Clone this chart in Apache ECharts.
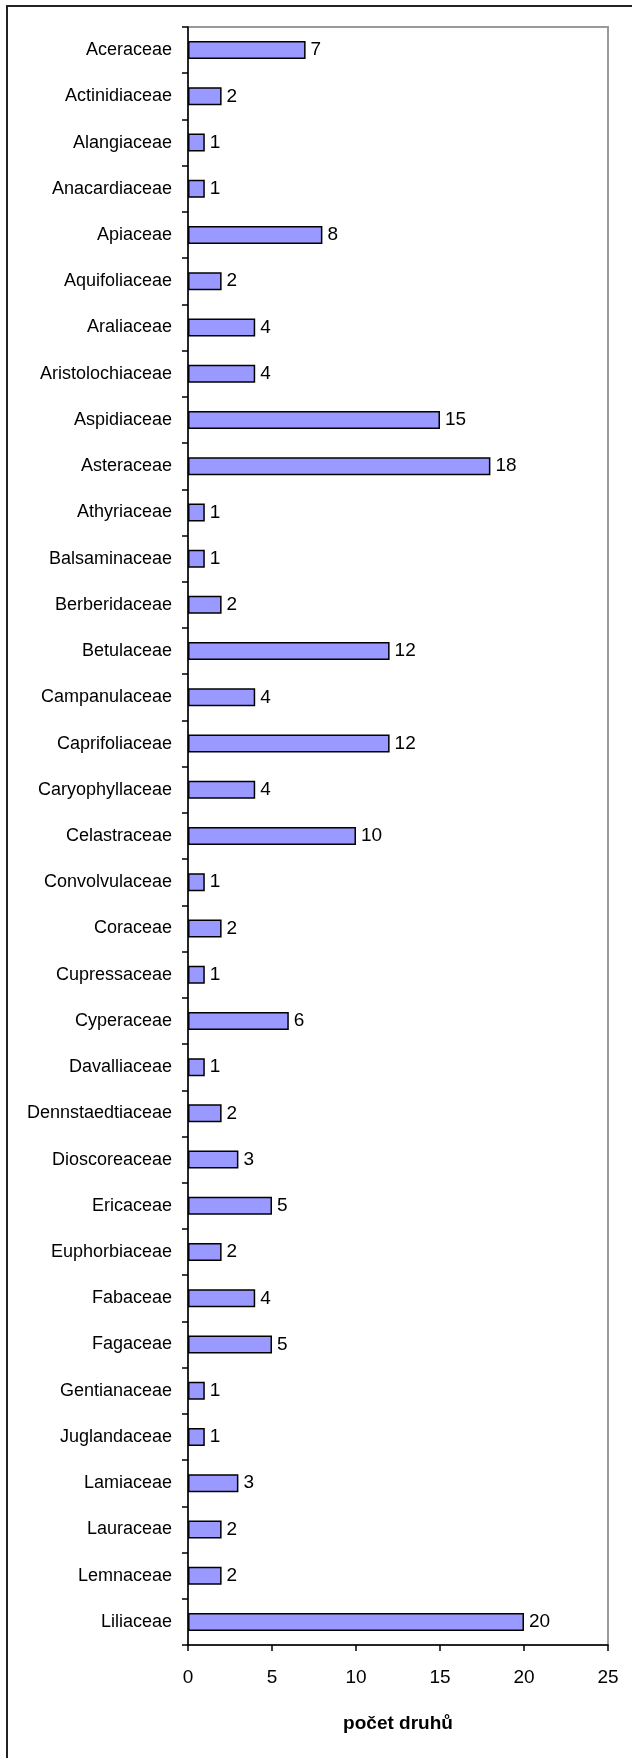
<!DOCTYPE html>
<html>
<head>
<meta charset="utf-8">
<script src="https://cdn.jsdelivr.net/npm/echarts@6/dist/echarts.min.js"></script>
<style>
  html, body { margin: 0; padding: 0; background: #fff; overflow: hidden; }
  #frame {
    position: absolute; left: 6px; top: 5px; width: 640px; height: 1770px;
    border-left: 2px solid #222; border-top: 2px solid #222;
  }
  #chart { position: absolute; left: 0; top: 0; width: 632px; height: 1758px; }
</style>
</head>
<body>
<div id="frame"></div>
<div id="chart"></div>
<script>
// families (top to bottom)
const families = [
  "Aceraceae", "Actinidiaceae", "Alangiaceae", "Anacardiaceae", "Apiaceae",
  "Aquifoliaceae", "Araliaceae", "Aristolochiaceae", "Aspidiaceae", "Asteraceae",
  "Athyriaceae", "Balsaminaceae", "Berberidaceae", "Betulaceae", "Campanulaceae",
  "Caprifoliaceae", "Caryophyllaceae", "Celastraceae", "Convolvulaceae", "Coraceae",
  "Cupressaceae", "Cyperaceae", "Davalliaceae", "Dennstaedtiaceae", "Dioscoreaceae",
  "Ericaceae", "Euphorbiaceae", "Fabaceae", "Fagaceae", "Gentianaceae",
  "Juglandaceae", "Lamiaceae", "Lauraceae", "Lemnaceae", "Liliaceae"
];

// species count per family
const speciesCount = [
  7, 2, 1, 1, 8,
  2, 4, 4, 15, 18,
  1, 1, 2, 12, 4,
  12, 4, 10, 1, 2,
  1, 6, 1, 2, 3,
  5, 2, 4, 5, 1,
  1, 3, 2, 2, 20
];

const xTitle = "počet druhů";

const font = "'Liberation Sans', Arial, sans-serif";

const chart = echarts.init(document.getElementById("chart"));

const option = {
  animation: false,
  grid: {
    left: 188,
    top: 27,
    width: 420,
    height: 1618,
    show: true,
    borderColor: "#999",
    borderWidth: 2,
    containLabel: false
  },
  xAxis: {
    type: "value",
    min: 0,
    max: 25,
    interval: 5,
    name: xTitle,
    nameLocation: "middle",
    nameGap: 69,
    nameTextStyle: { fontFamily: font, fontSize: 19, fontWeight: "bold", color: "#000" },
    axisLine: { show: true, lineStyle: { color: "#000", width: 1.5 } },
    axisTick: { show: true, inside: false, length: 6, lineStyle: { color: "#000", width: 1.5 } },
    axisLabel: { fontFamily: font, fontSize: 19, color: "#000", margin: 23 },
    splitLine: { show: false }
  },
  yAxis: {
    type: "category",
    data: families,
    inverse: true,
    axisLine: { show: true, lineStyle: { color: "#000", width: 1.5 } },
    axisTick: { show: true, inside: false, length: 6, lineStyle: { color: "#000", width: 1.5 } },
    axisLabel: { fontFamily: font, fontSize: 18, color: "#000", margin: 16 },
    splitLine: { show: false }
  },
  series: [
    {
      type: "bar",
      data: speciesCount,
      barWidth: 18,
      itemStyle: { color: "#9999FF", borderColor: "#000", borderWidth: 1.5 },
      label: {
        show: true,
        position: "right",
        distance: 5,
        fontFamily: font,
        fontSize: 19,
        color: "#000"
      }
    }
  ]
};

chart.setOption(option);
</script>
</body>
</html>
